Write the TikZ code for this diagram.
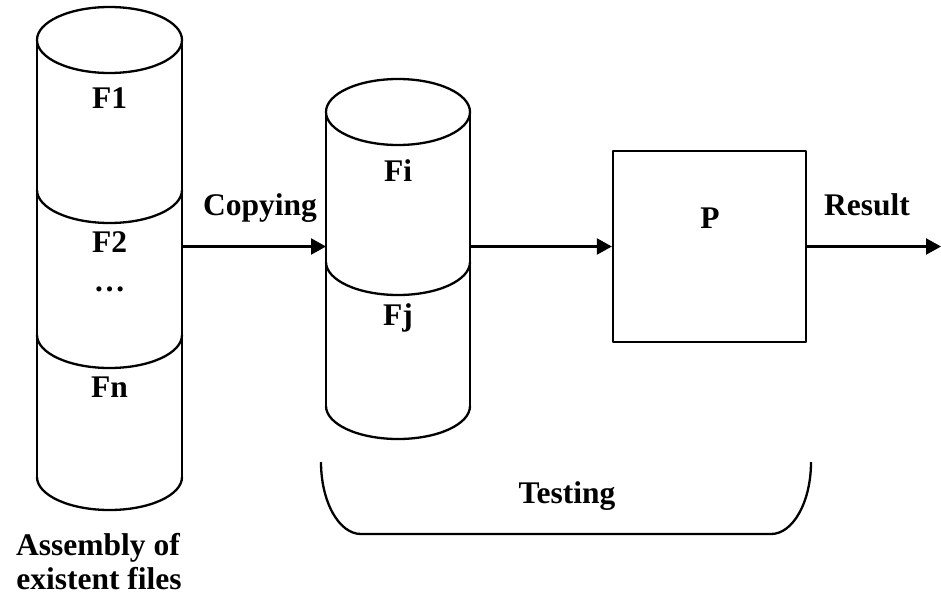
\documentclass[tikz,border=0pt]{standalone}
\usepackage{fontspec}
\setmainfont{Liberation Serif}
\usetikzlibrary{arrows.meta}

\tikzset{
  outline/.style={line width=2.3pt, line join=round},
  flow/.style={outline, -{Triangle[length=15pt,width=16pt]}},
  lbl/.style={font=\fontsize{31.5}{36}\selectfont\bfseries, inner sep=0pt, anchor=base},
  hidden/.style={draw=none, inner sep=0pt, outer sep=0pt}
}

\begin{document}
\begin{tikzpicture}[x=1pt, y=-1pt]
  \useasboundingbox (0,0) rectangle (941,597);

  % stacked file store on the left (three segments)
  \def\rx{72.5}\def\ry{33}
  \node[hidden, minimum width=145pt, minimum height=437pt] (assembly) at (109.5,258.5) {};
  \draw[outline] (109.5,40) ellipse [x radius=\rx pt, y radius=\ry pt];
  \draw[outline] (37,40) -- (37,477);
  \draw[outline] (182,40) -- (182,477);
  \foreach \yy in {190,335,477}
    \draw[outline] (37,\yy) arc [start angle=180, end angle=360, x radius=\rx pt, y radius=\ry pt];

  % working copy store in the middle (two segments)
  \node[hidden, minimum width=144pt, minimum height=294pt] (pair) at (398,259) {};
  \draw[outline] (398,112) ellipse [x radius=72pt, y radius=\ry pt];
  \draw[outline] (326,112) -- (326,406);
  \draw[outline] (470,112) -- (470,406);
  \foreach \yy in {262,406}
    \draw[outline] (326,\yy) arc [start angle=180, end angle=360, x radius=72pt, y radius=\ry pt];

  % program under test
  \node[outline, draw, minimum width=193pt, minimum height=191pt, inner sep=0pt] (proc) at (709.5,246.5) {};
  \coordinate (out) at (941,246.5);

  % connectors
  \draw[flow] (assembly.east |- proc.west) -- (pair.west |- proc.west);
  \draw[flow] (pair.east |- proc.west) -- (proc.west);
  \draw[flow] (proc.east) -- (out);

  % testing bracket
  \coordinate (tl) at (321,462);
  \coordinate (tr) at (811,462);
  \draw[outline] (tl) arc [start angle=180, end angle=270, x radius=40pt, y radius=72pt]
    -- (771,534) arc [start angle=270, end angle=360, x radius=40pt, y radius=72pt];

  % labels
  \node[lbl] (f1) at (109.5,108) {F1};
  \node[lbl] (f2) at (109.5,252) {F2};
  \node[lbl] (dots) at (109.5,291) {…};
  \node[lbl] (fn) at (109.5,397) {Fn};
  \node[lbl] (fi) at (398,181) {Fi};
  \node[lbl] (fj) at (398,325) {Fj};
  \node[lbl] (copying) at (260,215) {Copying};
  \node[lbl] (p) at (710,228) {P};
  \node[lbl] (result) at (867,215) {Result};
  \node[lbl] (testing) at (567,503) {Testing};
  \node[lbl] (asm1) at (98,555) {Assembly of};
  \node[lbl] (asm2) at (99,589) {existent files};
\end{tikzpicture}
\end{document}
